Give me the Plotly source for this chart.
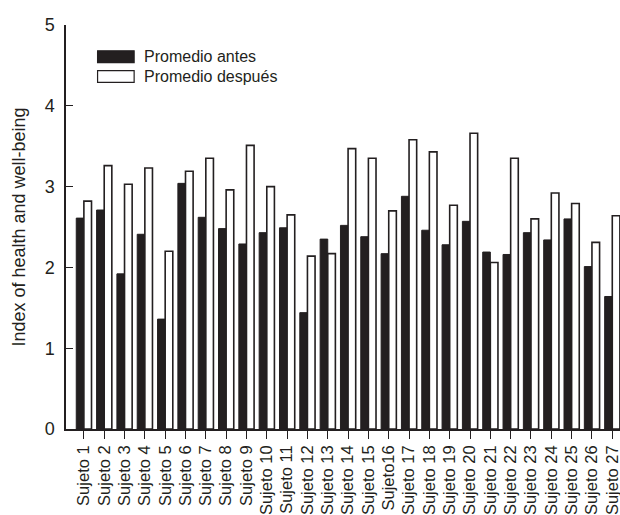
import plotly.graph_objects as go

# Subject labels (as printed, including "Sujeto16")
subjects = ["Sujeto 1", "Sujeto 2", "Sujeto 3", "Sujeto 4", "Sujeto 5", "Sujeto 6",
            "Sujeto 7", "Sujeto 8", "Sujeto 9", "Sujeto 10", "Sujeto 11", "Sujeto 12",
            "Sujeto 13", "Sujeto 14", "Sujeto 15", "Sujeto16", "Sujeto 17", "Sujeto 18",
            "Sujeto 19", "Sujeto 20", "Sujeto 21", "Sujeto 22", "Sujeto 23", "Sujeto 24",
            "Sujeto 25", "Sujeto 26", "Sujeto 27"]

# Mean index before and after
antes = [2.61, 2.71, 1.92, 2.41, 1.36, 3.04, 2.62, 2.48, 2.29, 2.43, 2.49, 1.44,
         2.35, 2.52, 2.38, 2.17, 2.88, 2.46, 2.28, 2.57, 2.19, 2.16, 2.43, 2.34,
         2.60, 2.01, 1.64]
despues = [2.82, 3.26, 3.03, 3.23, 2.20, 3.19, 3.35, 2.96, 3.51, 3.00, 2.65, 2.14,
           2.17, 3.47, 3.35, 2.70, 3.58, 3.43, 2.77, 3.66, 2.06, 3.35, 2.60, 2.92,
           2.79, 2.31, 2.64]

y_ticks = [0, 1, 2, 3, 4, 5]
legend_labels = ["Promedio antes", "Promedio después"]

dark = "#231f20"
font_family = "Liberation Sans, Arial, sans-serif"

idx = list(range(len(subjects)))

fig = go.Figure()
fig.add_trace(go.Bar(x=idx, y=antes, name=legend_labels[0],
                     marker=dict(color=dark, line=dict(color=dark, width=1))))
fig.add_trace(go.Bar(x=idx, y=despues, name=legend_labels[1],
                     marker=dict(color="white", line=dict(color=dark, width=1.6))))

fig.update_layout(
    width=620, height=515,
    margin=dict(l=66, r=0, t=25, b=86),
    paper_bgcolor="white", plot_bgcolor="white",
    barmode="group", bargap=0.25, bargroupgap=0,
    showlegend=False,
    font=dict(family=font_family, color=dark, size=16),
)

fig.update_xaxes(
    range=[-0.88, 26.38], automargin=False,
    tickmode="array", tickvals=idx, ticktext=subjects,
    tickangle=-90, tickfont=dict(size=16.5, color=dark),
    ticklabeloverflow="allow",
    ticks="outside", ticklen=8, tickwidth=1.2, tickcolor=dark,
    showline=True, linecolor=dark, linewidth=1.5,
    showgrid=False, zeroline=False,
)
fig.update_yaxes(
    range=[0, 5], automargin=False,
    tickvals=y_ticks,
    ticks="inside", ticklen=7, tickwidth=1.2, tickcolor=dark,
    tickfont=dict(size=18, color=dark), ticklabelstandoff=6,
    showline=True, linecolor=dark, linewidth=1.5,
    showgrid=False, zeroline=False,
    title=dict(text="Index of health and well-being", font=dict(size=18, color=dark), standoff=14),
)

# Legend drawn as wide swatches with text beside them
legend_rows = [(0.9215, dark), (0.8725, "white")]
for (yc, fill), label in zip(legend_rows, legend_labels):
    fig.add_shape(type="rect", xref="paper", yref="paper",
                  x0=0.057, x1=0.123, y0=yc - 0.0145, y1=yc + 0.0145,
                  fillcolor=fill, line=dict(color=dark, width=1.2))
    fig.add_annotation(xref="paper", yref="paper", x=0.137, y=yc, text=label,
                       showarrow=False, xanchor="left", yanchor="middle",
                       font=dict(size=16, color=dark, family=font_family))

fig.write_html("out.html")
